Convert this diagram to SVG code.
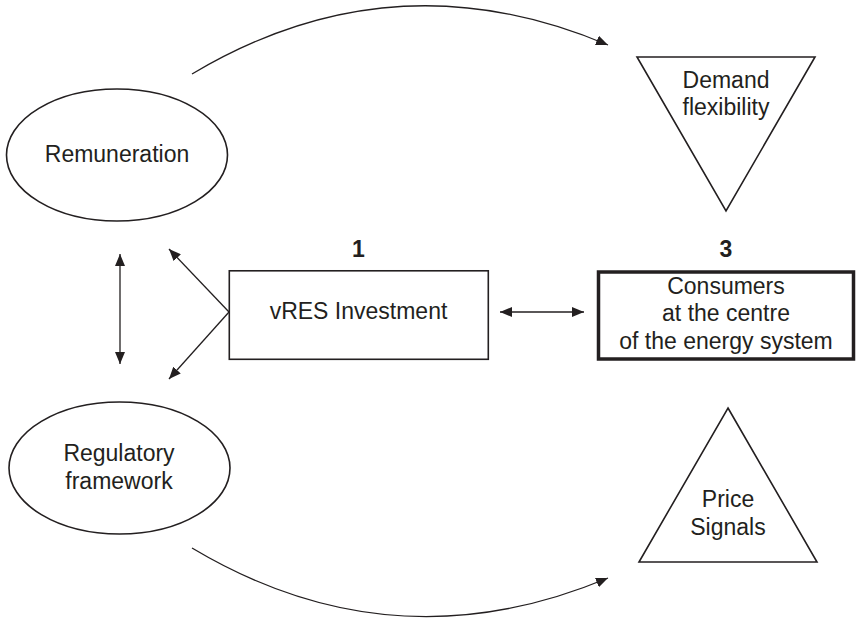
<svg xmlns="http://www.w3.org/2000/svg" width="856" height="619" viewBox="0 0 856 619">
<style>
text { font-family: "Liberation Sans", Arial, sans-serif; font-size: 23px; fill: #231f20; text-anchor: middle; }
.num { font-weight: bold; font-size: 23px; }
.shape { fill: #ffffff; stroke: #231f20; stroke-width: 1.6; }
.thick { fill: #ffffff; stroke: #231f20; stroke-width: 3.5; }
.conn { fill: none; stroke: #231f20; stroke-width: 1.3; }
</style>
<defs>
<marker id="ah" markerUnits="userSpaceOnUse" markerWidth="12" markerHeight="10" viewBox="0 0 12 10" refX="12" refY="5" orient="auto-start-reverse">
<path d="M0,0 L12,5 L0,10 z" fill="#231f20"/>
</marker>
</defs>
<g id="connectors">
<path class="conn" d="M192,74 Q393,-46 608,45" marker-end="url(#ah)"/>
<path class="conn" d="M192,548 Q393,668 608,578" marker-end="url(#ah)"/>
<line class="conn" x1="120" y1="254" x2="120" y2="364" marker-start="url(#ah)" marker-end="url(#ah)"/>
<line class="conn" x1="229" y1="312" x2="169" y2="249" marker-end="url(#ah)"/>
<line class="conn" x1="229" y1="312" x2="169" y2="379" marker-end="url(#ah)"/>
<line class="conn" x1="500" y1="312" x2="584" y2="312" marker-start="url(#ah)" marker-end="url(#ah)"/>
</g>
<g id="remuneration">
<ellipse class="shape" cx="117" cy="155" rx="110.5" ry="66"/>
<text x="117" y="162">Remuneration</text>
</g>
<g id="regulatory">
<ellipse class="shape" cx="119.5" cy="468" rx="110.5" ry="66"/>
<text x="119" y="461">Regulatory</text>
<text x="119" y="488.5">framework</text>
</g>
<g id="vres">
<rect class="shape" x="229.3" y="270.8" width="259" height="88.5"/>
<text x="358.5" y="319">vRES Investment</text>
<text class="num" x="358.5" y="257">1</text>
</g>
<g id="consumers">
<rect class="thick" x="598.5" y="272" width="255" height="87"/>
<text x="726" y="293.5">Consumers</text>
<text x="726" y="321">at the centre</text>
<text x="726" y="348.5">of the energy system</text>
<text class="num" x="726" y="257">3</text>
</g>
<g id="demand">
<polygon class="shape" points="637,57 815,57 726,211"/>
<text x="726" y="88">Demand</text>
<text x="726" y="115">flexibility</text>
</g>
<g id="price">
<polygon class="shape" points="728,408 817,562 639,562"/>
<text x="728" y="507">Price</text>
<text x="728" y="535">Signals</text>
</g>
</svg>
